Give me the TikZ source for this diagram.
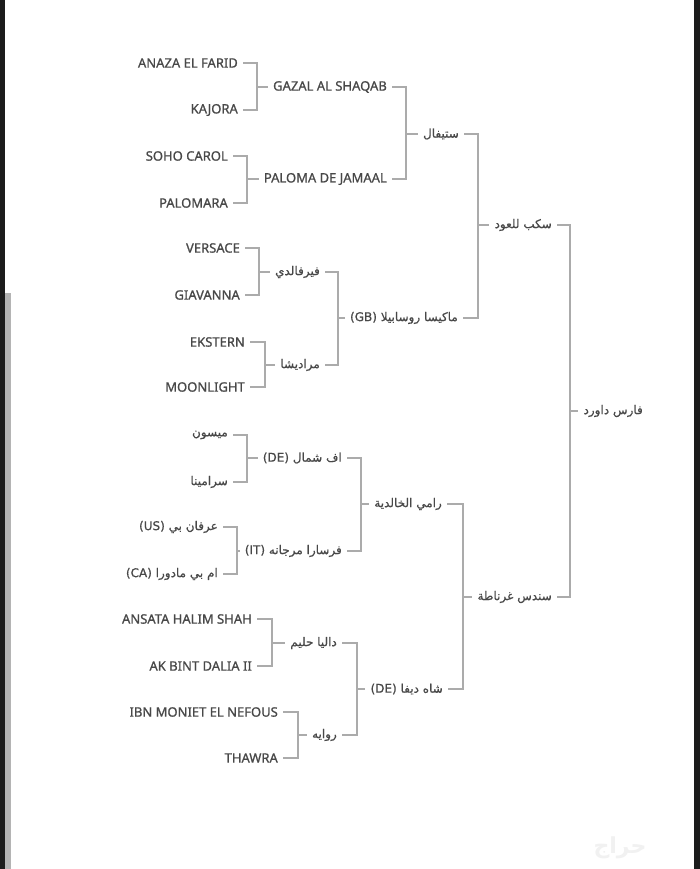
\documentclass[tikz,border=0pt]{standalone}
\usepackage{fontspec}
\setmainfont{Noto Sans}
\newfontfamily\latinfont[FakeBold=0.9]{Noto Sans}
\newfontfamily\arabicfont[Script=Arabic,FakeBold=0.7]{DejaVu Sans}
\newfontfamily\wmfont[Script=Arabic]{DejaVu Sans}
\TeXXeTstate=1
\definecolor{txtgray}{HTML}{484848}
\definecolor{linegray}{HTML}{ABABAB}
\definecolor{edgedark}{HTML}{1C1C1C}
\definecolor{edgegray}{HTML}{B4B4B4}
\definecolor{wmgray}{HTML}{F1F1F1}
\tikzset{
  lbl/.style={anchor=east, inner xsep=5pt, inner ysep=1pt, text=txtgray,
    font=\latinfont\fontsize{13}{15}\selectfont},
  arl/.style={lbl, font=\arabicfont\fontsize{12}{14}\selectfont},
  link/.style={draw=linegray, line width=1.4pt},
}
\newcommand{\AR}[1]{\beginR #1\endR}
\newcommand{\LT}[1]{\beginL #1\endL}
\begin{document}
\begin{tikzpicture}[x=1pt,y=-1pt]
\fill[white] (0,0) rectangle (700,869);
\useasboundingbox (0,0) rectangle (700,869);
\fill[edgedark] (0,0) rectangle (4.5,869);
\fill[edgegray] (4.5,293) rectangle (11,869);
\fill[edgedark] (694,0) rectangle (700,869);

% column 1 (leaves)
\node[lbl] (n1) at (243,63) {ANAZA EL FARID};
\node[lbl] (n2) at (243,110) {KAJORA};
\node[lbl] (n3) at (233,156) {SOHO CAROL};
\node[lbl] (n4) at (233,203) {PALOMARA};
\node[lbl] (n5) at (245,248) {VERSACE};
\node[lbl] (n6) at (245,295) {GIAVANNA};
\node[lbl] (n7) at (250,342) {EKSTERN};
\node[lbl] (n8) at (250,387) {MOONLIGHT};
\node[arl] (n9) at (233,435) {\AR{ميسون}};
\node[arl] (n10) at (233,482) {\AR{سرامينا}};
\node[arl] (n11) at (223,527) {\AR{عرفان بي \LT{(US)}}};
\node[arl] (n12) at (223,574) {\AR{ام بي مادورا \LT{(CA)}}};
\node[lbl] (n13) at (257,619) {ANSATA HALIM SHAH};
\node[lbl] (n14) at (257,666) {AK BINT DALIA II};
\node[lbl] (n15) at (283,712) {IBN MONIET EL NEFOUS};
\node[lbl] (n16) at (283,758) {THAWRA};

% column 2
\node[lbl] (m1) at (392,87) {GAZAL AL SHAQAB};
\node[lbl] (m2) at (392,179) {PALOMA DE JAMAAL};
\node[arl] (m3) at (325,272) {\AR{فيرفالدي}};
\node[arl] (m4) at (325,365) {\AR{مراديشا}};
\node[arl] (m5) at (347,458) {\AR{اف شمال \LT{(DE)}}};
\node[arl] (m6) at (347,551) {\AR{فرسارا مرجانه \LT{(IT)}}};
\node[arl] (m7) at (342,643) {\AR{داليا حليم}};
\node[arl] (m8) at (342,735) {\AR{روايه}};

% column 3
\node[arl] (k1) at (464,134) {\AR{ستيفال}};
\node[arl] (k2) at (463,318) {\AR{ماكيسا روسابيلا \LT{(GB)}}};
\node[arl] (k3) at (447,504) {\AR{رامي الخالدية}};
\node[arl] (k4) at (448,689) {\AR{شاه ديفا \LT{(DE)}}};

% column 4
\node[arl] (s1) at (557,225) {\AR{سكب للعود}};
\node[arl] (s2) at (557,597) {\AR{سندس غرناطة}};

% column 5
\node[arl] (f1) at (648,411) {\AR{فارس داورد}};

% junctions
\coordinate (j1) at (257,87);
\coordinate (j2) at (247,179);
\coordinate (j3) at (259,272);
\coordinate (j4) at (265,365);
\coordinate (j5) at (247,458);
\coordinate (j6) at (237,551);
\coordinate (j7) at (272,643);
\coordinate (j8) at (298,735);
\coordinate (c1) at (406,134);
\coordinate (c2) at (338,318);
\coordinate (c3) at (361,504);
\coordinate (c4) at (357,689);
\coordinate (d1) at (478,225);
\coordinate (d2) at (463,597);
\coordinate (e1) at (570,411);

\foreach \a/\b/\j/\p in {n1/n2/j1/m1, n3/n4/j2/m2, n5/n6/j3/m3, n7/n8/j4/m4,
  n9/n10/j5/m5, n11/n12/j6/m6, n13/n14/j7/m7, n15/n16/j8/m8,
  m1/m2/c1/k1, m3/m4/c2/k2, m5/m6/c3/k3, m7/m8/c4/k4,
  k1/k2/d1/s1, k3/k4/d2/s2, s1/s2/e1/f1}{
  \draw[link] (\a.east) -| (\j) |- (\b.east);
  \draw[link] (\j) -- (\j -| \p.west);
}

% watermark
\node[text=wmgray, font=\wmfont\bfseries\fontsize{22}{24}\selectfont] (wm) at (620,848) {\AR{حراج}};
\end{tikzpicture}
\end{document}
